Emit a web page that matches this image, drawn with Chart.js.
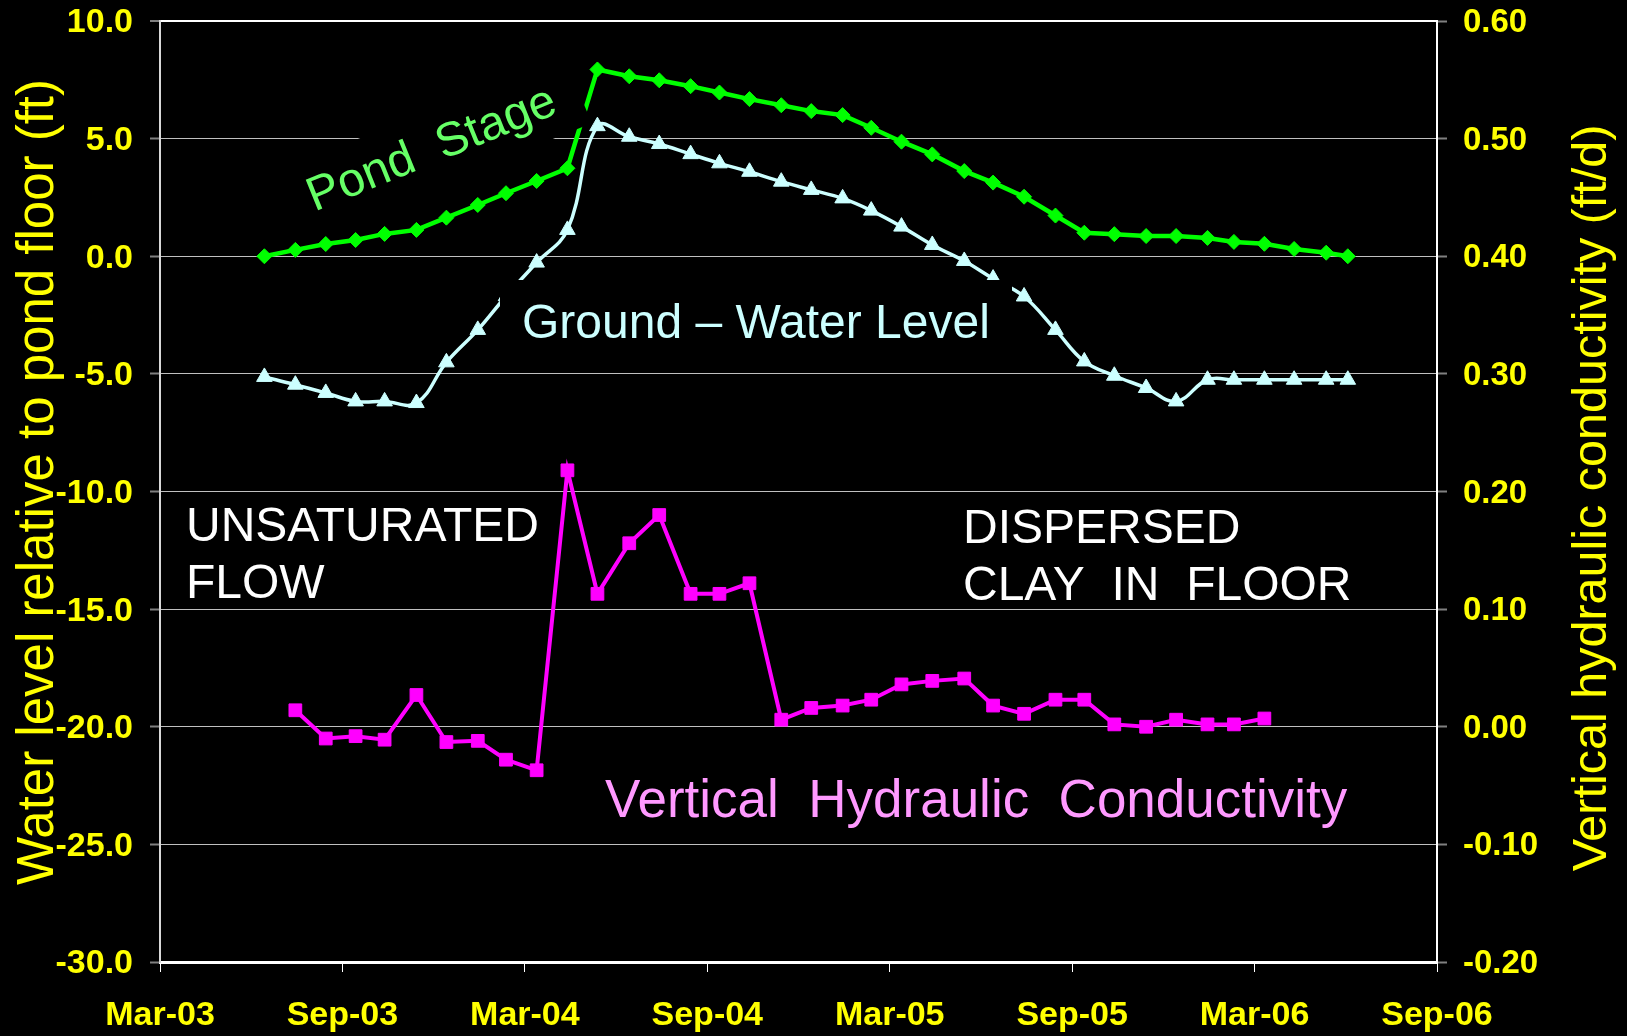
<!DOCTYPE html>
<html>
<head>
<meta charset="utf-8">
<title>Pond stage, ground-water level and vertical hydraulic conductivity</title>
<script src="https://cdn.jsdelivr.net/npm/chart.js@4.4.1/dist/chart.umd.min.js"></script>
<style>
  html, body { margin: 0; padding: 0; background: #000; }
  #wrap { width: 1627px; height: 1036px; }
</style>
</head>
<body>
<div id="wrap"><canvas id="chart" width="1627" height="1036"></canvas></div>
<script>
// Sampling dates, roughly one per month
const sampleDates = [
    '2003-06-14', '2003-07-15', '2003-08-15', '2003-09-14', '2003-10-13', '2003-11-14',
    '2003-12-14', '2004-01-15', '2004-02-12', '2004-03-13', '2004-04-13', '2004-05-13',
    '2004-06-14', '2004-07-14', '2004-08-15', '2004-09-13', '2004-10-13', '2004-11-14',
    '2004-12-14', '2005-01-15', '2005-02-12', '2005-03-13', '2005-04-13', '2005-05-15',
    '2005-06-13', '2005-07-14', '2005-08-15', '2005-09-13', '2005-10-13', '2005-11-14',
    '2005-12-14', '2006-01-15', '2006-02-10', '2006-03-11', '2006-04-10', '2006-05-12',
    '2006-06-03'
];

// Water level relative to pond floor (ft)
const pondStage = [
    0.00, 0.27, 0.52, 0.69, 0.95, 1.12, 1.64, 2.18, 2.68, 3.20, 3.74, 7.94,
    7.65, 7.48, 7.23, 6.96, 6.68, 6.42, 6.17, 6.00, 5.46, 4.87, 4.33, 3.62,
    3.13, 2.53, 1.73, 1.00, 0.94, 0.86, 0.86, 0.78, 0.61, 0.53, 0.31, 0.15,
    0.00
];

const groundWater = [
    -5.13, -5.46, -5.81, -6.17, -6.17, -6.24, -4.51, -3.13, -1.70, -0.27, 1.12, 5.53,
    5.08, 4.77, 4.34, 3.95, 3.59, 3.17, 2.82, 2.46, 1.94, 1.26, 0.48, -0.20,
    -0.95, -1.71, -3.13, -4.47, -5.08, -5.60, -6.17, -5.25, -5.25, -5.25, -5.25, -5.25,
    -5.25
];

// Vertical hydraulic conductivity (ft/d), right axis
const verticalK = [
    null, 0.014, -0.010, -0.008, -0.011, 0.027, -0.013, -0.012, -0.028, -0.037, 0.218, 0.113,
    0.156, 0.180, 0.113, 0.113, 0.122, 0.006, 0.016, 0.018, 0.023, 0.036, 0.039, 0.041,
    0.018, 0.011, 0.023, 0.023, 0.002, 0.000, 0.006, 0.002, 0.002, 0.007, null, null,
    null
];

const tickLabels = ['Mar-03', 'Sep-03', 'Mar-04', 'Sep-04', 'Mar-05', 'Sep-05', 'Mar-06', 'Sep-06'];

const FONT = '"Liberation Sans", Arial, sans-serif';
const YELLOW = '#ffff00';

// months since 1 Mar 2003
function monthsSinceStart(dateStr) {
    const [y, m, d] = dateStr.split('-').map(Number);
    const daysInMonth = new Date(y, m, 0).getDate();
    return (y - 2003) * 12 + (m - 3) + (d - 1) / daysInMonth;
}

function toPoints(values) {
    return sampleDates.map((d, i) => ({ x: monthsSinceStart(d), y: values[i] }));
}

// keep the plot area flush with the top, labels may overhang
function fitVertical(width) {
    return (scale) => {
        scale.width = width;
        scale.paddingTop = 0;
        scale.paddingBottom = 0;
    };
}

// Text boxes and axis titles drawn on top of the plot
const overlayPlugin = {
    id: 'overlay',
    afterDatasetsDraw(chart) {
        const ctx = chart.ctx;
        ctx.save();

        // Pond Stage label (rotated, black box hides the lines behind it)
        ctx.save();
        ctx.translate(432, 150);
        ctx.rotate(-22 * Math.PI / 180);
        ctx.fillStyle = '#000';
        ctx.fillRect(-158, -38, 316, 73);
        ctx.fillStyle = '#66ff66';
        ctx.font = '48px ' + FONT;
        ctx.textAlign = 'center';
        ctx.textBaseline = 'middle';
        ctx.fillText('Pond  Stage', 0, 0);
        ctx.restore();

        // Ground - Water Level label
        ctx.fillStyle = '#000';
        ctx.fillRect(500, 280, 512, 85);
        ctx.fillStyle = '#ccffff';
        ctx.font = '48px ' + FONT;
        ctx.textAlign = 'left';
        ctx.textBaseline = 'alphabetic';
        ctx.fillText('Ground \u2013 Water Level', 522, 338);

        // region notes
        ctx.fillStyle = '#ffffff';
        ctx.font = '48px ' + FONT;
        ctx.fillText('UNSATURATED', 186, 541);
        ctx.fillText('FLOW', 186, 598);
        ctx.fillText('DISPERSED', 963, 543);
        ctx.fillText('CLAY  IN  FLOOR', 963, 600);

        ctx.fillStyle = '#ff99ff';
        ctx.font = '53px ' + FONT;
        ctx.fillText('Vertical  Hydraulic  Conductivity', 605, 817);

        ctx.restore();
    },
    afterDraw(chart) {
        const ctx = chart.ctx;
        ctx.save();
        ctx.fillStyle = YELLOW;
        ctx.textAlign = 'center';
        ctx.textBaseline = 'alphabetic';

        ctx.save();
        ctx.font = '51px ' + FONT;
        ctx.translate(53, 482);
        ctx.rotate(-Math.PI / 2);
        ctx.fillText('Water level relative to pond floor (ft)', 0, 0);
        ctx.restore();

        ctx.save();
        ctx.font = '48.5px ' + FONT;
        ctx.translate(1606, 498);
        ctx.rotate(-Math.PI / 2);
        ctx.fillText('Vertical hydraulic conductivity (ft/d)', 0, 0);
        ctx.restore();

        ctx.restore();
    }
};

const ctx = document.getElementById('chart').getContext('2d');
const chart = new Chart(ctx, {
    type: 'line',
    data: {
        datasets: [
            {
                label: 'Pond Stage',
                data: toPoints(pondStage),
                borderColor: '#00ff00',
                backgroundColor: '#00ff00',
                borderWidth: 4.5,
                pointStyle: 'rectRot',
                pointRadius: 7.5,
                pointBorderWidth: 1,
                tension: 0,
                yAxisID: 'y'
            },
            {
                label: 'Ground - Water Level',
                data: toPoints(groundWater),
                borderColor: '#ccffff',
                backgroundColor: '#ccffff',
                borderWidth: 3.5,
                pointStyle: 'triangle',
                pointRadius: 9,
                pointBorderWidth: 1,
                tension: 0.4,
                yAxisID: 'y'
            },
            {
                label: 'Vertical Hydraulic Conductivity',
                data: toPoints(verticalK),
                borderColor: '#ff00ff',
                backgroundColor: '#ff00ff',
                borderWidth: 4,
                pointStyle: 'rect',
                pointRadius: 9,
                pointBorderWidth: 1,
                tension: 0,
                yAxisID: 'y1'
            }
        ]
    },
    options: {
        responsive: false,
        animation: false,
        layout: { padding: { top: 21, left: 0, right: 0, bottom: 0 } },
        plugins: {
            legend: { display: false },
            tooltip: { enabled: false }
        },
        scales: {
            x: {
                type: 'linear',
                min: 0,
                max: 42,
                afterFit: (scale) => { scale.height = 74; },
                ticks: {
                    stepSize: 6,
                    autoSkip: false,
                    maxRotation: 0,
                    padding: 23,
                    color: YELLOW,
                    font: { family: FONT, size: 34, weight: 'bold' },
                    callback: (v) => tickLabels[Math.round(v / 6)]
                },
                grid: {
                    drawOnChartArea: false,
                    tickLength: 10,
                    tickColor: '#ffffff',
                    tickWidth: 1
                },
                border: { color: '#ffffff', width: 3 }
            },
            y: {
                position: 'left',
                min: -30,
                max: 10,
                afterFit: fitVertical(160),
                ticks: {
                    stepSize: 5,
                    padding: 17,
                    labelOffset: 2,
                    color: YELLOW,
                    font: { family: FONT, size: 34, weight: 'bold' },
                    callback: (v) => v.toFixed(1)
                },
                grid: {
                    color: (c) => c.tick.value === 10 ? '#ffffff' : (c.tick.value === -30 ? 'rgba(0,0,0,0)' : '#c0c0c0'),
                    lineWidth: (c) => c.tick.value === 10 ? 2 : 1,
                    tickLength: 10,
                    tickColor: '#808080',
                    tickWidth: 2
                },
                border: { color: '#d8d8d8', width: 2 }
            },
            y1: {
                position: 'right',
                min: -0.2,
                max: 0.6,
                afterFit: fitVertical(190),
                ticks: {
                    stepSize: 0.1,
                    padding: 16,
                    labelOffset: 2,
                    color: YELLOW,
                    font: { family: FONT, size: 33, weight: 'bold' },
                    callback: (v) => Math.abs(v) < 1e-9 ? '0.00' : v.toFixed(2)
                },
                grid: {
                    drawOnChartArea: false,
                    tickLength: 10,
                    tickColor: '#808080',
                    tickWidth: 2
                },
                border: { color: '#ffffff', width: 2 }
            }
        }
    },
    plugins: [overlayPlugin]
});
</script>
</body>
</html>
